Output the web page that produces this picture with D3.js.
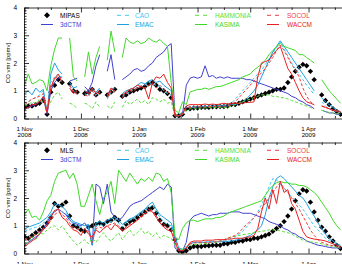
<!DOCTYPE html>
<html><head><meta charset="utf-8">
<script src="https://cdn.jsdelivr.net/npm/d3@7"></script>
<style>
html,body{margin:0;padding:0;background:#fff;}
svg{display:block;font-family:"Liberation Sans",Arial,Helvetica,sans-serif;}
</style></head><body>
<svg id="c" width="342" height="264"></svg>
<script>
// ---- sampling grid: every 2 days from 1 Nov 2008 ----
const startDate = new Date(2008, 10, 1);
const stepDays = 2;
const monthTickDates = ["2008-11-01","2008-12-01","2009-01-01","2009-02-01","2009-03-01","2009-04-01","2009-05-01"];
const monthTickLabels = [["1 Nov","2008"],["1 Dec","2008"],["1 Jan","2009"],["1 Feb","2009"],["1 Mar","2009"],["1 Apr","2009"]];
const yTickValues = [0,1,2,3,4];
const seriesNames = ["3dCTM","CAO","EMAC","HAMMONIA","KASIMA","SOCOL","WACCM"];

// ---- top panel (sampled at MIPAS) ----
const mipas = [
0.40,0.45,0.45,0.50,0.55,0.65,0.15,0.95,1.20,1.40,
1.30,null,1.25,1.00,0.95,null,0.90,0.95,1.05,0.85,
0.95,null,0.85,0.95,1.05,null,0.80,0.85,0.95,1.00,
1.05,1.10,1.15,1.25,1.30,1.20,1.05,1.00,0.90,0.75,
0.10,0.10,0.15,0.35,0.35,0.38,0.38,0.40,0.40,0.40,
0.42,0.42,0.43,0.43,0.45,0.50,0.50,0.55,0.60,0.65,
0.70,0.75,0.80,0.85,0.90,0.95,1.00,1.05,1.05,1.10,
1.30,1.50,1.70,1.85,1.95,1.90,1.70,1.40,null,0.85,
0.65,0.50,0.35,0.25,0.15];
const ctm3dTop = [
0.30,0.40,0.45,0.50,0.60,0.75,0.15,1.00,1.30,1.45,
1.50,null,1.35,1.40,1.45,null,1.15,1.00,1.30,1.90,
2.30,null,1.70,2.30,1.40,null,1.40,1.50,1.60,1.75,
1.80,1.70,1.75,1.90,2.00,2.20,2.30,2.40,2.60,2.70,
0.10,0.10,0.15,1.20,1.45,1.50,1.45,1.50,1.90,1.50,
1.55,1.45,1.50,1.45,1.50,1.45,1.45,1.45,1.45,1.40,
1.40,1.35,1.30,1.25,1.20,1.15,1.10,1.05,1.00,0.95,
0.90,0.80,0.75,0.65,0.60,0.50,0.45,0.35,null,0.30,
0.25,0.20,0.20,0.15,0.15];
const caoTop = [
0.55,0.60,0.70,0.75,0.85,1.00,0.20,1.30,1.50,1.60,
1.45,null,1.20,1.00,0.95,null,0.90,0.80,1.00,0.85,
0.95,null,0.70,0.95,1.00,null,0.80,0.90,0.95,1.05,
1.10,1.15,1.20,1.30,1.25,1.20,1.15,1.00,0.90,0.85,
0.10,0.10,0.15,0.40,0.40,0.42,0.42,0.43,0.45,0.45,
0.45,0.45,0.47,0.48,0.50,0.55,0.70,0.85,1.00,1.15,
1.30,1.45,1.60,1.75,1.95,2.15,2.35,2.55,2.75,2.50,
2.25,2.00,1.80,1.60,1.40,1.20,1.05,0.85,null,0.60,
0.45,0.35,0.30,0.25,0.20];
const emacTop = [
0.90,1.00,0.85,1.10,0.95,1.05,0.20,1.60,2.00,1.75,
1.60,null,1.30,1.10,1.15,null,1.00,0.95,1.05,0.95,
1.10,null,0.85,1.05,1.10,null,0.90,1.00,1.05,1.10,
1.20,1.30,1.25,1.35,1.40,1.30,1.35,1.20,1.10,1.00,
0.10,0.10,0.20,0.40,0.40,0.40,0.42,0.42,0.43,0.43,
0.44,0.44,0.45,0.45,0.45,0.50,0.50,0.55,0.60,0.70,
0.85,1.00,1.20,1.50,1.80,2.10,2.40,2.60,2.80,2.60,
2.40,2.20,2.00,1.80,1.60,1.40,1.20,1.00,null,0.75,
0.60,0.50,0.40,0.30,0.25];
const hammoniaTop = [
0.45,0.50,0.60,0.55,0.70,0.60,0.40,0.60,0.85,0.95,
0.70,null,0.55,0.50,0.35,null,0.55,0.50,0.35,0.60,
0.40,null,0.45,0.35,0.60,null,0.40,0.65,0.50,0.60,
0.70,0.55,0.65,0.50,0.75,0.70,0.60,0.70,0.55,0.60,
0.10,0.10,0.15,0.30,0.35,0.35,0.35,0.38,0.38,0.40,
0.40,0.40,0.40,0.40,0.40,0.45,0.50,0.55,0.60,0.65,
0.70,0.75,0.80,0.85,0.85,0.85,0.80,0.80,0.75,0.75,
0.70,0.65,0.60,0.55,0.50,0.45,0.40,0.35,null,0.30,
0.25,0.22,0.20,0.18,0.15];
const kasimaTop = [
1.20,1.60,1.25,1.30,1.40,1.35,1.00,1.90,2.50,2.90,
2.90,null,2.90,1.50,1.35,null,1.50,2.40,1.60,2.20,
2.60,null,2.10,3.15,2.40,null,2.20,2.90,2.75,2.70,
2.80,2.70,2.75,2.90,2.80,2.75,2.85,2.70,2.60,1.30,
0.30,0.20,0.60,0.50,0.95,1.00,1.05,1.05,1.10,1.05,
1.10,1.15,1.15,1.20,1.25,1.30,1.35,1.40,1.50,1.55,
1.60,1.75,1.85,1.95,2.10,2.30,2.45,2.60,2.70,2.60,
2.55,2.50,2.45,2.30,2.30,2.20,2.10,2.00,null,1.40,
1.20,1.00,0.85,0.70,0.55];
const socolTop = [
0.50,0.60,0.70,0.75,0.80,0.90,0.25,1.20,1.40,1.55,
1.40,null,1.20,0.95,0.90,null,0.85,0.80,1.00,0.80,
0.95,null,0.75,1.00,0.95,null,0.75,0.90,1.00,1.00,
1.10,1.15,1.10,1.20,1.25,1.10,1.20,1.05,0.95,0.90,
0.10,0.10,0.15,0.40,0.40,0.40,0.42,0.42,0.42,0.43,
0.43,0.43,0.44,0.44,0.45,0.50,0.60,0.75,0.90,1.05,
1.20,1.35,1.50,1.65,1.80,2.00,2.20,2.45,2.65,2.45,
2.20,1.95,1.75,1.50,1.10,0.80,0.60,0.50,null,0.45,
0.40,0.35,0.30,0.25,0.20];
const waccmTop = [
0.35,0.40,0.50,0.50,0.60,0.80,0.20,1.10,1.45,1.60,
1.30,null,1.10,0.90,1.00,null,1.00,0.90,1.10,0.90,
1.00,null,0.80,1.10,1.00,null,0.85,0.95,1.05,1.10,
1.20,1.15,1.10,0.70,1.30,1.50,1.45,1.60,1.30,1.10,
0.10,0.10,0.15,0.45,0.50,0.50,0.50,0.50,0.52,0.50,
0.52,0.50,0.52,0.55,0.52,0.55,0.55,0.55,0.55,0.58,
0.58,0.60,1.50,2.00,2.05,2.10,2.30,2.45,2.60,2.20,
1.80,1.60,1.30,1.00,0.75,0.60,0.55,0.50,null,0.45,
0.40,0.35,0.30,0.28,0.25];

// ---- bottom panel (sampled at MLS) ----
const mls = [
0.60,0.55,0.65,0.75,0.85,0.95,1.10,1.30,1.80,1.70,
1.75,1.85,1.35,1.00,0.95,0.85,0.80,0.95,1.00,1.05,
1.10,1.05,1.15,1.20,1.30,1.20,0.90,1.05,1.15,1.20,
1.30,1.40,1.50,1.60,1.65,1.45,1.20,1.05,1.00,0.85,
0.50,0.10,0.05,0.10,0.20,0.25,0.25,0.25,0.28,0.28,
0.30,0.30,0.30,0.35,0.35,0.40,0.40,0.45,0.45,0.50,
0.50,0.55,0.55,0.60,0.65,0.70,0.80,0.90,1.00,1.15,
1.35,1.60,1.90,2.15,2.30,2.25,1.85,1.50,1.20,0.95,
0.80,0.60,0.45,0.30,0.18];
const ctm3dBot = [
0.30,0.40,0.50,0.60,0.70,0.90,1.10,1.40,1.50,1.60,
1.50,1.40,1.20,1.10,1.05,1.00,1.10,0.90,0.30,2.50,
2.40,1.80,2.50,1.50,1.30,1.20,1.30,1.50,1.70,1.80,
1.85,1.90,2.00,2.10,2.20,2.30,2.40,2.30,2.50,2.40,
0.20,0.10,0.10,0.40,1.20,1.35,1.40,1.45,1.40,1.35,
1.40,1.40,1.45,1.45,1.45,1.50,1.50,1.50,1.45,1.45,
1.45,1.40,1.35,1.30,1.25,1.15,1.10,1.05,1.00,0.90,
0.85,0.75,0.70,0.60,0.55,0.45,0.40,0.35,0.30,0.28,
0.25,0.22,0.20,0.20,0.18];
const caoBot = [
0.80,0.85,0.90,0.95,1.00,1.10,1.20,1.40,1.55,1.60,
1.50,1.45,1.25,1.05,1.00,0.95,0.90,0.95,0.35,1.00,
1.05,1.00,1.10,1.15,1.20,1.10,0.95,1.10,1.20,1.25,
1.35,1.45,1.55,1.65,1.75,1.50,1.30,1.15,1.05,1.00,
0.60,0.20,0.15,0.20,0.35,0.40,0.40,0.40,0.42,0.42,
0.42,0.42,0.45,0.45,0.50,0.55,0.60,0.70,0.80,0.95,
1.10,1.30,1.50,1.75,2.05,2.40,2.70,2.65,2.50,2.35,
2.20,2.05,1.90,1.75,1.60,1.40,1.20,1.00,0.85,0.70,
0.55,0.45,0.35,0.30,0.25];
const emacBot = [
0.90,0.95,1.00,1.05,1.10,1.20,1.30,1.50,1.80,1.75,
1.70,1.55,1.30,1.15,1.10,1.05,1.00,1.05,0.30,1.10,
1.15,1.10,1.20,1.25,1.30,1.20,1.05,1.15,1.25,1.30,
1.40,1.50,1.60,1.75,1.85,1.60,1.40,1.30,1.20,1.10,
0.60,0.20,0.15,0.20,0.35,0.40,0.40,0.40,0.40,0.42,
0.42,0.42,0.42,0.43,0.44,0.45,0.48,0.50,0.55,0.60,
0.65,0.75,0.85,1.00,1.40,2.00,2.40,2.70,2.80,2.70,
2.55,2.40,2.25,2.10,2.00,1.80,1.55,1.35,1.10,0.90,
0.70,0.55,0.45,0.35,0.30];
const hammoniaBot = [
0.35,0.40,0.60,0.50,0.75,0.70,0.85,0.95,1.00,0.85,
1.00,0.80,0.60,0.45,0.30,0.40,0.50,0.35,0.55,0.40,
0.60,0.75,0.55,0.45,0.60,0.75,0.50,0.70,0.85,0.65,
0.75,0.90,0.70,0.80,0.60,0.75,0.55,0.65,0.60,0.55,
0.30,0.15,0.15,0.25,0.30,0.32,0.32,0.35,0.35,0.38,
0.40,0.40,0.45,0.50,0.55,0.60,0.62,0.65,0.68,0.70,
0.72,0.75,0.78,0.80,0.82,0.85,0.85,0.85,0.82,0.78,
0.75,0.70,0.62,0.55,0.48,0.45,0.42,0.40,0.38,0.35,
0.30,0.28,0.25,0.22,0.20];
const kasimaBot = [
1.40,1.60,1.30,1.35,1.20,1.50,1.90,2.10,2.60,2.90,
2.95,3.00,2.70,2.90,2.50,1.70,1.70,2.10,2.50,1.90,
1.40,2.00,2.20,2.60,1.80,3.00,2.80,2.60,2.90,2.70,
2.50,2.70,2.60,2.75,2.60,2.90,2.85,2.60,2.70,2.20,
0.60,0.50,0.90,1.10,1.20,1.20,1.15,1.20,1.25,1.25,
1.25,1.30,1.30,1.35,1.45,1.50,1.55,1.60,1.65,1.70,
1.75,1.80,1.85,1.90,2.10,2.30,2.45,2.55,2.60,2.55,
2.55,2.50,2.50,2.45,2.45,2.40,2.30,2.20,2.05,1.85,
1.65,1.45,1.20,1.00,0.85];
const socolBot = [
0.50,0.55,0.60,0.70,0.80,0.90,1.00,1.20,1.40,1.50,
1.40,1.30,1.10,0.95,0.90,0.80,0.75,0.85,0.40,0.90,
0.95,0.90,1.00,1.05,1.10,1.00,0.85,0.95,1.05,1.10,
1.20,1.30,1.40,1.50,1.55,1.35,1.20,1.05,0.95,0.90,
0.50,0.15,0.10,0.20,0.35,0.38,0.38,0.40,0.40,0.40,
0.42,0.42,0.45,0.48,0.55,0.60,0.65,0.75,0.90,1.05,
1.15,1.30,1.45,1.60,1.80,2.00,2.20,2.40,2.55,2.35,
2.20,2.00,1.80,1.60,1.35,1.10,0.85,0.65,0.50,0.40,
0.35,0.30,0.28,0.25,0.22];
const waccmBot = [
0.25,0.35,0.45,0.55,0.70,0.85,1.00,1.30,1.55,1.60,
1.30,1.20,1.00,0.85,0.80,0.65,0.90,0.70,0.60,0.85,
0.75,0.90,1.00,0.85,1.05,0.95,0.80,0.90,1.00,1.10,
1.20,1.35,1.45,1.60,1.50,1.30,1.10,0.95,0.85,0.80,
0.40,0.10,0.10,0.20,0.40,0.45,0.45,0.45,0.48,0.48,
0.48,0.50,0.50,0.50,0.52,0.52,0.55,0.55,0.55,0.58,
0.60,0.65,0.90,1.50,2.00,1.60,2.30,1.80,2.60,2.20,
2.30,1.80,1.60,1.20,0.80,0.60,0.55,0.52,0.50,0.48,
0.45,0.40,0.35,0.30,0.25];

// ---- styles ----
const styles = {
  "3dCTM":   {color:"#4040d0", dash:null},
  "CAO":     {color:"#40c8f0", dash:"3,2"},
  "EMAC":    {color:"#20a0e0", dash:null},
  "HAMMONIA":{color:"#58e038", dash:"3,2"},
  "KASIMA":  {color:"#40d828", dash:null},
  "SOCOL":   {color:"#f03c3c", dash:"3,2"},
  "WACCM":   {color:"#e82020", dash:null}
};

const panels = [
  {top:7.5, bottom:118.5, obsName:"MIPAS", obs:mipas,
   models:[ctm3dTop,caoTop,emacTop,hammoniaTop,kasimaTop,socolTop,waccmTop]},
  {top:142.5, bottom:253.5, obsName:"MLS", obs:mls,
   models:[ctm3dBot,caoBot,emacBot,hammoniaBot,kasimaBot,socolBot,waccmBot]}
];

const W = 342, H = 264, left = 24;
const pxPerDay = 1.881;
const svg = d3.select("#c");
const parse = d3.timeParse("%Y-%m-%d");
const monthDates = monthTickDates.map(parse);
const x = d3.scaleTime()
  .domain([monthDates[0], monthDates[monthDates.length-1]])
  .range([left + 0.5, left + 0.5 + 181 * pxPerDay]);

const minorDates = [];
monthDates.slice(0, -1).forEach(m => {
  [8, 15, 23].forEach(dd => minorDates.push(new Date(m.getFullYear(), m.getMonth(), dd)));
});

panels.forEach((p, pi) => {
  const n = p.obs.length;
  const dates = d3.range(n).map(i => d3.timeDay.offset(startDate, i * stepDays));
  const y = d3.scaleLinear().domain([0, 4]).range([p.bottom, p.top]);
  const g = svg.append("g");

  const clipId = "clip" + pi;
  svg.append("clipPath").attr("id", clipId).append("rect")
    .attr("x", left).attr("y", p.top).attr("width", W - left).attr("height", p.bottom - p.top);

  const plot = g.append("g").attr("clip-path", `url(#${clipId})`);

  // observations (diamonds)
  const diamond = "M0,-2.7L2.7,0L0,2.7L-2.7,0Z";
  plot.append("g").selectAll("path")
    .data(p.obs.map((v, i) => ({d: dates[i], v})).filter(o => o.v != null))
    .join("path")
    .attr("d", diamond)
    .attr("transform", o => `translate(${x(o.d)},${y(o.v)})`)
    .attr("fill", "#000");

  // model lines
  const line = d3.line().defined(v => v != null)
    .x((v, i) => x(dates[i])).y(v => y(v));
  p.models.forEach((arr, k) => {
    const st = styles[seriesNames[k]];
    plot.append("path").datum(arr)
      .attr("d", line)
      .attr("fill", "none")
      .attr("stroke", st.color)
      .attr("stroke-width", 1)
      .attr("stroke-dasharray", st.dash);
  });

  // axes
  const yAxis = d3.axisLeft(y).tickValues(yTickValues).tickFormat(d3.format("d"))
    .tickSize(-5).tickSizeOuter(0).tickPadding(7);
  const yAx = g.append("g").attr("transform", `translate(${left},0)`).call(yAxis);
  const yMinor = d3.axisLeft(y).tickValues(d3.range(0, 41).map(v => v / 10).filter(v => v % 1 !== 0))
    .tickSize(-2.5).tickSizeOuter(0).tickFormat("");
  g.append("g").attr("transform", `translate(${left},0)`).call(yMinor).select(".domain").remove();

  const xMajorB = d3.axisBottom(x).tickValues(monthDates).tickSize(-5).tickSizeOuter(0).tickFormat("");
  g.append("g").attr("transform", `translate(0,${p.bottom})`).call(xMajorB);
  const xMinorB = d3.axisBottom(x).tickValues(minorDates).tickSize(-2.5).tickSizeOuter(0).tickFormat("");
  g.append("g").attr("transform", `translate(0,${p.bottom})`).call(xMinorB).select(".domain").remove();
  const xMajorT = d3.axisTop(x).tickValues(monthDates).tickSize(-5).tickSizeOuter(0).tickFormat("");
  g.append("g").attr("transform", `translate(0,${p.top})`).call(xMajorT);
  const xMinorT = d3.axisTop(x).tickValues(minorDates).tickSize(-2.5).tickSizeOuter(0).tickFormat("");
  g.append("g").attr("transform", `translate(0,${p.top})`).call(xMinorT).select(".domain").remove();

  g.selectAll(".domain, .tick line").attr("stroke", "#000").attr("stroke-width", 0.8);
  yAx.selectAll("text").attr("font-size", 6.5).attr("fill", "#000")
    .attr("font-family", "Liberation Sans, Arial, sans-serif");

  // x tick labels (two lines)
  monthTickLabels.forEach((lab, j) => {
    const t = g.append("text").attr("text-anchor", "middle")
      .attr("font-size", 6.2).attr("fill", "#000")
      .attr("x", x(monthDates[j])).attr("y", p.bottom + 12.5);
    t.append("tspan").attr("x", x(monthDates[j])).text(lab[0]);
    t.append("tspan").attr("x", x(monthDates[j])).attr("dy", 6).text(lab[1]);
  });

  // y label
  g.append("text")
    .attr("transform", `translate(10,${(p.top + p.bottom) / 2}) rotate(-90)`)
    .attr("text-anchor", "middle").attr("font-size", 6).attr("fill", "#000")
    .text("CO vmr [ppmv]");

  // legend
  const cols = [{lx: 41, tx: 60}, {lx: 117, tx: 135}, {lx: 195, tx: 215}, {lx: 267, tx: 287}];
  const rows = [p.top + 7.8, p.top + 17];
  const entries = [
    {name: p.obsName, obs: true, col: 0, row: 0},
    {name: "3dCTM", col: 0, row: 1},
    {name: "CAO", col: 1, row: 0},
    {name: "EMAC", col: 1, row: 1},
    {name: "HAMMONIA", col: 2, row: 0},
    {name: "KASIMA", col: 2, row: 1},
    {name: "SOCOL", col: 3, row: 0},
    {name: "WACCM", col: 3, row: 1}
  ];
  const lg = g.append("g");
  entries.forEach(e => {
    const c = cols[e.col], ry = rows[e.row];
    let color = "#000";
    if (e.obs) {
      lg.append("path").attr("d", "M0,-3L3,0L0,3L-3,0Z")
        .attr("transform", `translate(${c.lx + 6},${ry})`).attr("fill", "#000");
    } else {
      const st = styles[e.name];
      color = st.color;
      lg.append("line").attr("x1", c.lx).attr("x2", c.lx + 12)
        .attr("y1", ry).attr("y2", ry)
        .attr("stroke", st.color).attr("stroke-width", 1)
        .attr("stroke-dasharray", st.dash ? "4,4" : null);
    }
    lg.append("text").attr("x", c.tx).attr("y", ry + 2.3)
      .attr("font-size", 6.5).attr("fill", color).text(e.name);
  });
});
</script>
</body></html>
